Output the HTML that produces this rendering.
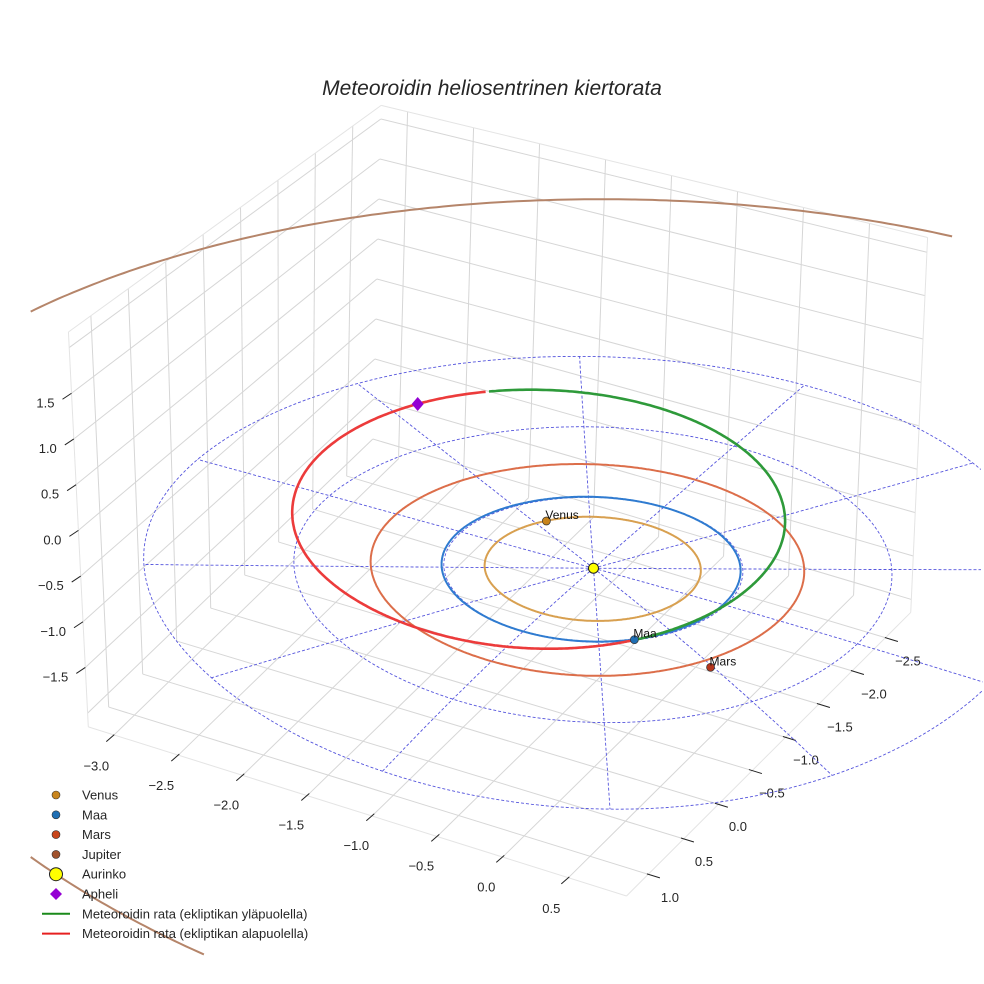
<!DOCTYPE html>
<html><head><meta charset="utf-8"><style>
html,body{margin:0;padding:0;background:#fff;width:984px;height:984px;overflow:hidden}
svg{display:block;font-family:"Liberation Sans",sans-serif;overflow:hidden}
</style></head><body>
<svg id="chart" width="984" height="984" viewBox="0 0 984 984" xmlns="http://www.w3.org/2000/svg">
<rect width="984" height="984" fill="#fff"/>
<text x="492" y="95" text-anchor="middle" font-size="21" font-style="italic" fill="#262626">Meteoroidin heliosentrinen kiertorata</text>
<g id="panes"></g><g id="ticks"></g><g id="refs"></g><g id="orbits"></g><g id="marks"></g>
<g id="legend"></g>
</svg>
<script>
// ---- data ----
const xTicks=[-3.0,-2.5,-2.0,-1.5,-1.0,-0.5,0.0,0.5];
const yTicks=[-2.5,-2.0,-1.5,-1.0,-0.5,0.0,0.5,1.0];
const zTicks=[-1.5,-1.0,-0.5,0.0,0.5,1.0,1.5];
const zGrid=[-2.0,-1.5,-1.0,-0.5,0.0,0.5,1.0,1.5,2.0];
const xLim=[-3.2,0.94], yLim=[-2.88,1.3], zLim=[-2.15,2.17];
const planetNames=["Venus","Maa","Mars"];
const planetX=[-0.585,0.689,1.293];
const planetY=[-0.427,0.714,0.766];
const orbitNames=["Venus","Maa","Mars","Jupiter"];
const orbitA=[0.723,1.0,1.45,5.38];
const orbitE=[0.007,0.017,0.03,0.048];
const orbitPeri=[0,0,0,180];
const refRadii=[1,2,3];
const refAngles=[0,30,60,90,120,150,180,210,240,270,300,330];
const meteorA=[1.8], meteorE=[0.45], meteorPeri=[35], meteorNode=[46], meteorInc=[5];
// ---- projection ----
function proj(x,y,z){
  const u=(x-xLim[0])/(xLim[1]-xLim[0]), v=(yLim[1]-y)/(yLim[1]-yLim[0]);
  const bil=(a,b,c,d)=>a*(1-u)*(1-v)+b*u*(1-v)+c*u*v+d*(1-u)*v;
  const kz=bil(91.4,96,86.8,80), kx=bil(-4.6,0,3.9,2);
  const d=(39*x+66*y)/76.7;
  const extra=d>0?3*d*d:0;
  const sx=597+130*x-68*y+(z-zLim[0])*kx+zLim[0]*2;
  const sy=567+39*x+66*y+(-zLim[0])*92.5-(z-zLim[0])*kz+extra;
  return [sx,sy];
}
const NS="http://www.w3.org/2000/svg";
function el(tag,attrs,parent){const e=document.createElementNS(NS,tag);for(const k in attrs)e.setAttribute(k,attrs[k]);parent.appendChild(e);return e;}
// build path, dropping points outside the clip box (breaking into segments)
function pathOf(pts,box){box=box||[0,0,984,984];let s='',pen=false;
 const inside=p=>p[0]>=box[0]&&p[0]<=box[2]&&p[1]>=box[1]&&p[1]<=box[3];
 pts.forEach(p=>{if(inside(p)){s+=(pen?'L':'M')+p[0].toFixed(1)+' '+p[1].toFixed(1);pen=true;}else pen=false;});
 return s||'M0 0';}
function sample(f,n){const a=[];for(let i=0;i<=n;i++)a.push(f(i/n));return a;}
const panes=document.getElementById('panes');
const G='#d6d6d6';
function line3(a,b,parent,stroke,w){const p=proj(...a),q=proj(...b);return el('line',{x1:p[0],y1:p[1],x2:q[0],y2:q[1],stroke:stroke,'stroke-width':w},parent);}
xTicks.forEach(x=>{const l=line3([x,yLim[0],zLim[0]],[x,yLim[1],zLim[0]],panes,G,1);

});
yTicks.forEach(y=>{const l=line3([xLim[0],y,zLim[0]],[xLim[1],y,zLim[0]],panes,G,1);

});
yTicks.forEach(y=>{const l=line3([xLim[0],y,zLim[0]],[xLim[0],y,zLim[1]],panes,G,1);

});
zGrid.forEach(z=>{const l=line3([xLim[0],yLim[0],z],[xLim[0],yLim[1],z],panes,G,1);

});
xTicks.forEach(x=>{const l=line3([x,yLim[0],zLim[0]],[x,yLim[0],zLim[1]],panes,G,1);

});
zGrid.forEach(z=>{const l=line3([xLim[0],yLim[0],z],[xLim[1],yLim[0],z],panes,G,1);

});
[[[xLim[0],yLim[1],zLim[0]],[xLim[1],yLim[1],zLim[0]]],[[xLim[1],yLim[1],zLim[0]],[xLim[1],yLim[0],zLim[0]]],
 [[xLim[0],yLim[1],zLim[0]],[xLim[0],yLim[1],zLim[1]]],[[xLim[1],yLim[0],zLim[0]],[xLim[1],yLim[0],zLim[1]]],
 [[xLim[0],yLim[1],zLim[1]],[xLim[0],yLim[0],zLim[1]]],[[xLim[0],yLim[0],zLim[1]],[xLim[1],yLim[0],zLim[1]]]].forEach(e=>{
 const l=line3(e[0],e[1],panes,'#e4e4e4',1);
 
 });
const ticks=document.getElementById('ticks');
function fmt(v){return (v<0?'\u2212':'')+Math.abs(v).toFixed(1);}
xTicks.forEach(x=>{const p=proj(x,yLim[1],zLim[0]);
 el('line',{x1:p[0],y1:p[1],x2:p[0]-8,y2:p[1]+7,stroke:'#222','stroke-width':1},ticks);
 const t=el('text',{x:p[0]-18,y:p[1]+36,'text-anchor':'middle','font-size':13,fill:'#262626'},ticks);t.textContent=fmt(x);
 
 });
yTicks.forEach(y=>{const p=proj(xLim[1],y,zLim[0]);
 el('line',{x1:p[0],y1:p[1],x2:p[0]+13,y2:p[1]+4,stroke:'#222','stroke-width':1},ticks);
 const t=el('text',{x:p[0]+23,y:p[1]+28,'text-anchor':'middle','font-size':13,fill:'#262626'},ticks);t.textContent=fmt(y);
 
 });
zTicks.forEach(z=>{const p=proj(xLim[0],yLim[1],z);
 el('line',{x1:p[0],y1:p[1],x2:p[0]-9,y2:p[1]+6,stroke:'#222','stroke-width':1},ticks);
 const t=el('text',{x:p[0]-17,y:p[1]+14,'text-anchor':'end','font-size':13,fill:'#262626'},ticks);t.textContent=fmt(z);
 
 });
const refs=document.getElementById('refs');
refRadii.forEach(r=>{const pts=sample(f=>{const t=f*2*Math.PI;return proj(r*Math.cos(t),r*Math.sin(t),0);},360);
 const p=el('path',{d:pathOf(pts),fill:'none',stroke:'#5555dd','stroke-width':0.9,'stroke-dasharray':'3 2'},refs);
 
 });
refAngles.forEach(a=>{const r=3,t=a*Math.PI/180;
 const pts=sample(f=>proj(f*r*Math.cos(t),f*r*Math.sin(t),0),60);
 const l=el('path',{d:pathOf(pts),fill:'none',stroke:'#5555dd','stroke-width':0.9,'stroke-dasharray':'3 2'},refs);
 
 });
const orbits=document.getElementById('orbits');
const orbitColors=['#d8a050','#2f7bd0','#dc6e4a','#b5856a'];
orbitA.forEach((a,k)=>{const e=orbitE[k],w=orbitPeri[k]*Math.PI/180;
 const pts=sample(f=>{const th=f*2*Math.PI;const r=a*(1-e*e)/(1+e*Math.cos(th-w));return proj(r*Math.cos(th),r*Math.sin(th),0);},720);
 const p=el('path',{d:pathOf(pts,[30,0,955,955]),fill:'none',stroke:orbitColors[k],'stroke-width':2},orbits);
 
 });
const ma=meteorA[0],me=meteorE[0],mw=meteorPeri[0]*Math.PI/180,mn=meteorNode[0]*Math.PI/180,mi=meteorInc[0]*Math.PI/180;
function meteorPt(th){const r=ma*(1-me*me)/(1+me*Math.cos(th-mw));return [r*Math.cos(th),r*Math.sin(th),r*Math.tan(mi)*Math.sin(mn-th)];}
let up=[],down=[];
for(let i=0;i<=720;i++){const th=mn-i/720*2*Math.PI;const P=meteorPt(th);(P[2]>=0&&i<=360?up:down).push(proj(...P));}
const mg=el('path',{d:pathOf(up),fill:'none',stroke:'#2e9a3a','stroke-width':2.6},orbits);


const mr=el('path',{d:pathOf(down),fill:'none',stroke:'#ec3b3b','stroke-width':2.6},orbits);


const marks=document.getElementById('marks');
const planetColors=['#c8841c','#1f6fb4','#b5361c'];
planetNames.forEach((n,k)=>{const p=proj(planetX[k],planetY[k],0);
 const c=el('circle',{cx:p[0],cy:p[1],r:4,fill:planetColors[k],stroke:'#333','stroke-width':0.7},marks);
 
 
 const t=el('text',{x:p[0]-1,y:p[1]-2,'font-size':12,fill:'#111'},marks);t.textContent=n;
 
 });
const sp=proj(0,0,0);
const sun=el('circle',{cx:sp[0],cy:sp[1],r:5,fill:'#ffff00',stroke:'#222','stroke-width':1},marks);


const ap=proj(...meteorPt(mw+Math.PI));
const apm=el('path',{d:`M${ap[0]} ${ap[1]-7} L${ap[0]+6} ${ap[1]} L${ap[0]} ${ap[1]+7} L${ap[0]-6} ${ap[1]} Z`,fill:'#9400d3'},marks);


const lg=document.getElementById('legend');
const legItems=[['Venus','c','#c8841c'],['Maa','c','#1f6fb4'],['Mars','c','#c8461b'],['Jupiter','c','#a0522d'],['Aurinko','s','#ffff00'],['Apheli','d','#9400d3'],['Meteoroidin rata (ekliptikan yläpuolella)','l','#1a8a1a'],['Meteoroidin rata (ekliptikan alapuolella)','l','#e62020']];
legItems.forEach((it,i)=>{const y=795+i*19.8;
 const g=el('g',{},lg);
 
 
 if(it[1]=='c')el('circle',{cx:56,cy:y,r:4,fill:it[2],stroke:'#333','stroke-width':0.6},g);
 if(it[1]=='s')el('circle',{cx:56,cy:y,r:6.5,fill:it[2],stroke:'#222','stroke-width':1},g);
 if(it[1]=='d')el('path',{d:`M56 ${y-6} L62 ${y} L56 ${y+6} L50 ${y} Z`,fill:it[2]},g);
 if(it[1]=='l')el('line',{x1:42,y1:y,x2:70,y2:y,stroke:it[2],'stroke-width':2},g);
 const t=el('text',{x:82,y:y+4.5,'font-size':13,fill:'#262626'},g);t.textContent=it[0];});
</script>
</body></html>
